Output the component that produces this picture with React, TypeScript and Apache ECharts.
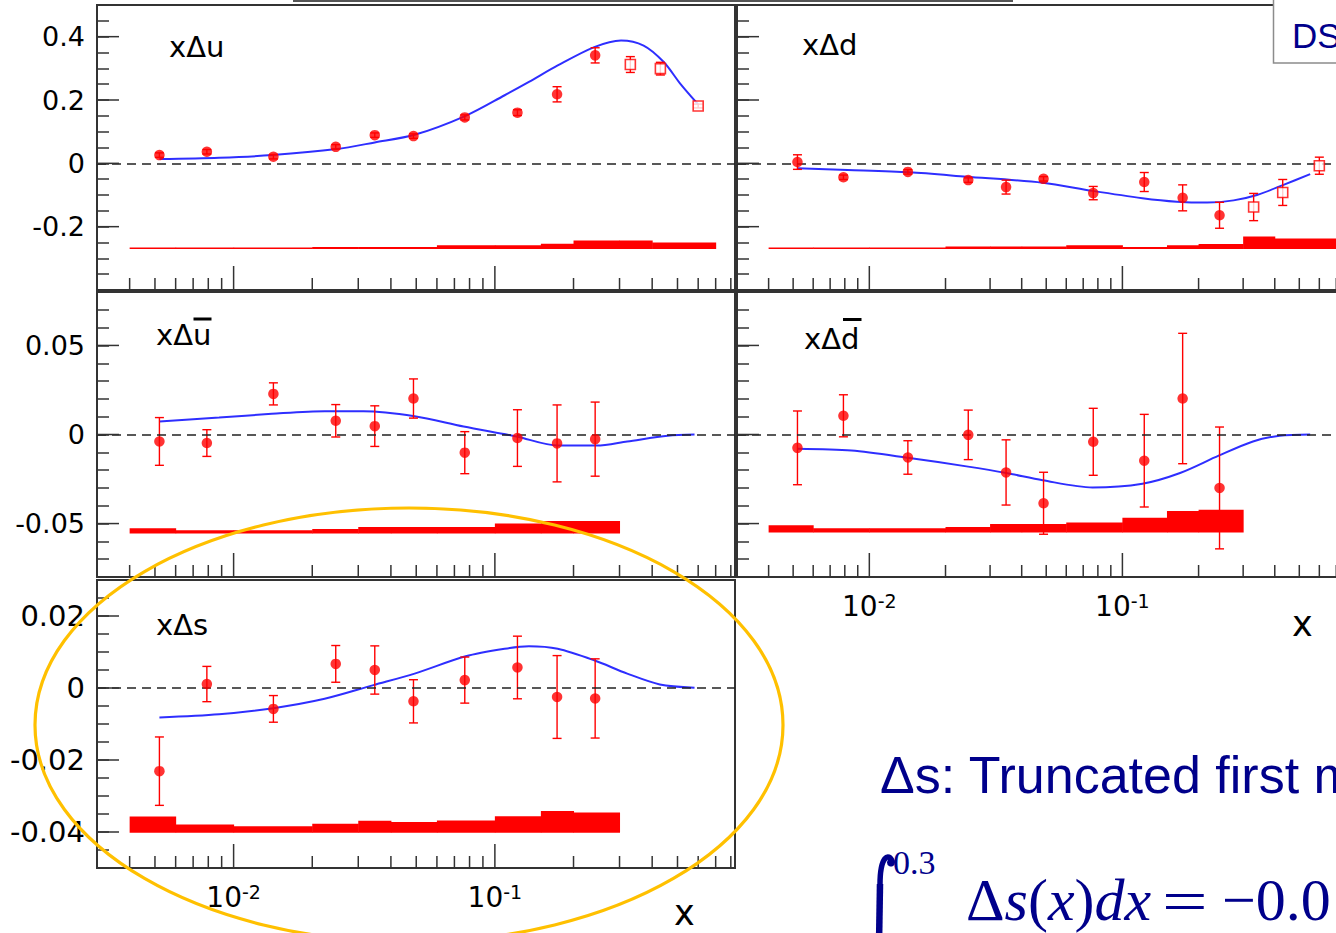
import { useEffect, useRef } from 'react';
import * as echarts from 'echarts';

// ---------- axis ranges & ticks ----------
const X_MIN = 0.003;
const X_MAX = 0.83;
const xMinorTicks = [0.004, 0.005, 0.006, 0.007, 0.008, 0.009, 0.02, 0.03, 0.04, 0.05, 0.06, 0.07, 0.08, 0.09, 0.2, 0.3, 0.4, 0.5, 0.6, 0.7, 0.8];
const xMajorTicks = [0.01, 0.1];
const xTickExp = ['-2', '-1'];

const topYLabels = [-0.2, 0, 0.2, 0.4];
const midYLabels = [-0.05, 0, 0.05];
const botYLabels = [-0.04, -0.02, 0, 0.02];

// ---------- data ----------
const xBins = [0.0052, 0.0079, 0.0142, 0.0246, 0.0347, 0.0488, 0.0767, 0.122, 0.173, 0.242];
const xHigh = [0.33, 0.43, 0.6];
const sysEdges = [0.004, 0.006, 0.01, 0.02, 0.03, 0.04, 0.06, 0.1, 0.15, 0.2, 0.3, 0.4, 0.7];

// x Delta u
const uVal = [0.026, 0.0365, 0.021, 0.052, 0.089, 0.086, 0.145, 0.16, 0.218, 0.341];
const uErr = [0.007, 0.007, 0.007, 0.007, 0.007, 0.007, 0.008, 0.009, 0.024, 0.024];
const uHighVal = [0.312, 0.299, 0.181];
const uHighErr = [0.025, 0.02, 0.006];
const uSys = [-0.2675, -0.2675, -0.2675, -0.264, -0.264, -0.264, -0.259, -0.259, -0.254, -0.244, -0.244, -0.25];
const uSysBase = -0.2705;
const uCurveX = [0.0052, 0.0088, 0.0141, 0.0248, 0.0347, 0.0493, 0.0773, 0.109, 0.135, 0.174, 0.24, 0.304, 0.371, 0.443, 0.512, 0.6];
const uCurveY = [0.0135, 0.0177, 0.026, 0.045, 0.066, 0.09, 0.15, 0.215, 0.257, 0.309, 0.367, 0.388, 0.372, 0.32, 0.252, 0.186];

// x Delta d
const dVal = [0.004, -0.044, -0.027, -0.053, -0.075, -0.049, -0.094, -0.059, -0.109, -0.164];
const dErr = [0.023, 0.007, 0.007, 0.007, 0.022, 0.007, 0.021, 0.03, 0.041, 0.041];
const dHighVal = [-0.138, -0.092, -0.0075];
const dHighErr = [0.043, 0.041, 0.027];
const dSys = [-0.268, -0.268, -0.268, -0.263, -0.263, -0.263, -0.259, -0.264, -0.259, -0.255, -0.231, -0.237];
const dSysBase = -0.2705;
const dCurveX = [0.0052, 0.0082, 0.0144, 0.0242, 0.0484, 0.0762, 0.12, 0.164, 0.216, 0.275, 0.34, 0.433, 0.552];
const dCurveY = [-0.0158, -0.021, -0.0284, -0.042, -0.061, -0.087, -0.11, -0.121, -0.124, -0.117, -0.1, -0.068, -0.034];

// x Delta u-bar
const ubVal = [-0.0039, -0.0048, 0.0228, 0.0077, 0.0047, 0.0202, -0.0102, -0.002, -0.005, -0.0026];
const ubErr = [0.0134, 0.0075, 0.0062, 0.0091, 0.0114, 0.011, 0.0118, 0.0159, 0.0216, 0.0208];
const ubSys = [-0.0526, -0.0537, -0.0537, -0.053, -0.0519, -0.0519, -0.0519, -0.05, -0.0485, -0.0485];
const ubSysBase = -0.0556;
const ubCurveX = [0.0052, 0.0088, 0.014, 0.0223, 0.0314, 0.0493, 0.0759, 0.121, 0.174, 0.245, 0.321, 0.459, 0.581];
const ubCurveY = [0.0073, 0.0095, 0.0116, 0.0131, 0.0131, 0.0103, 0.0045, -0.0011, -0.0062, -0.0062, -0.0039, -0.0007, 0];

// x Delta d-bar
const dbVal = [-0.0075, 0.0105, -0.0129, -0.0002, -0.0213, -0.0386, -0.0041, -0.0147, 0.0202, -0.03];
const dbErr = [0.0207, 0.0118, 0.0094, 0.0139, 0.0183, 0.0174, 0.0188, 0.026, 0.0366, 0.0342];
const dbSys = [-0.051, -0.0526, -0.0526, -0.0519, -0.0502, -0.0502, -0.0494, -0.0468, -0.0429, -0.0422];
const dbSysBase = -0.055;
const dbCurveX = [0.0052, 0.0085, 0.0144, 0.0242, 0.0348, 0.0484, 0.0762, 0.12, 0.169, 0.24, 0.328, 0.418, 0.552];
const dbCurveY = [-0.008, -0.009, -0.0132, -0.0179, -0.0216, -0.0257, -0.0297, -0.0276, -0.0216, -0.0119, -0.0039, -0.0007, 0];

// x Delta s
const sVal = [-0.0231, 0.0011, -0.0058, 0.0067, 0.005, -0.0037, 0.0022, 0.0057, -0.0025, -0.0029];
const sErr = [0.0095, 0.0049, 0.0037, 0.0051, 0.0067, 0.006, 0.0064, 0.0087, 0.0115, 0.011];
const sSys = [-0.0357, -0.0379, -0.0384, -0.0377, -0.0369, -0.0372, -0.0368, -0.0356, -0.0342, -0.0346];
const sSysBase = -0.0402;
const sCurveX = [0.0052, 0.0088, 0.0142, 0.0223, 0.0343, 0.0493, 0.0773, 0.109, 0.135, 0.174, 0.24, 0.321, 0.428, 0.581];
const sCurveY = [-0.0082, -0.0073, -0.0056, -0.003, 0.0008, 0.004, 0.0088, 0.0109, 0.0116, 0.0109, 0.0077, 0.004, 0.001, 0.0001];

// ---------- styling ----------
const FONT = 'DejaVu Sans';
const RED = '#ff0000';
const BLUE = '#2e2eff';
const FRAME = '#333333';
const NAVY = '#00008b';

type Panel = {
  left: number; top: number; width: number; height: number;
  yMin: number; yMax: number; yStep: number; yMajor: number[];
  showY: boolean; showX: boolean; yFont: number;
  val: number[]; err: number[]; hiVal?: number[]; hiErr?: number[];
  sys: number[]; sysBase: number; cx: number[]; cy: number[];
};

const panels: Panel[] = [
  { left: 97, top: 5, width: 638, height: 285, yMin: -0.4, yMax: 0.5, yStep: 0.05, yMajor: topYLabels, showY: true, showX: false, yFont: 27,
    val: uVal, err: uErr, hiVal: uHighVal, hiErr: uHighErr, sys: uSys, sysBase: uSysBase, cx: uCurveX, cy: uCurveY },
  { left: 737, top: 5, width: 618, height: 285, yMin: -0.4, yMax: 0.5, yStep: 0.05, yMajor: topYLabels, showY: false, showX: false, yFont: 27,
    val: dVal, err: dErr, hiVal: dHighVal, hiErr: dHighErr, sys: dSys, sysBase: dSysBase, cx: dCurveX, cy: dCurveY },
  { left: 97, top: 292, width: 638, height: 285, yMin: -0.08, yMax: 0.08, yStep: 0.01, yMajor: midYLabels, showY: true, showX: false, yFont: 27,
    val: ubVal, err: ubErr, sys: ubSys, sysBase: ubSysBase, cx: ubCurveX, cy: ubCurveY },
  { left: 737, top: 292, width: 618, height: 285, yMin: -0.08, yMax: 0.08, yStep: 0.01, yMajor: midYLabels, showY: false, showX: true, yFont: 27,
    val: dbVal, err: dbErr, sys: dbSys, sysBase: dbSysBase, cx: dbCurveX, cy: dbCurveY },
  { left: 97, top: 580, width: 638, height: 288, yMin: -0.05, yMax: 0.03, yStep: 0.005, yMajor: botYLabels, showY: true, showX: true, yFont: 29,
    val: sVal, err: sErr, sys: sSys, sysBase: sSysBase, cx: sCurveX, cy: sCurveY },
];

const yFmt = (labels: number[]) => (v: number) => {
  const l = labels.find((t) => Math.abs(t - v) < 1e-7);
  return l === undefined ? '' : String(l);
};
const xFmt = (v: number) => {
  const i = xMajorTicks.findIndex((t) => Math.abs(Math.log10(t) - Math.log10(v)) < 1e-6);
  return i < 0 ? '' : `{b|10}{s|${xTickExp[i]}}`;
};

function buildOption() {
  const grid: any[] = [];
  const xAxis: any[] = [];
  const yAxis: any[] = [];
  const series: any[] = [];

  panels.forEach((p, i) => {
    grid.push({
      left: p.left, top: p.top, width: p.width, height: p.height,
      show: true, borderColor: FRAME, borderWidth: 2, backgroundColor: 'transparent',
      containLabel: false, outerBoundsMode: 'none',
    });
    xAxis.push({
      type: 'log', logBase: 10, gridIndex: i, min: X_MIN, max: X_MAX,
      axisLine: { show: false }, axisTick: { show: false }, splitLine: { show: false },
      axisLabel: {
        show: p.showX, formatter: xFmt, color: '#000', margin: 14,
        rich: {
          b: { fontFamily: FONT, fontSize: 28, color: '#000', lineHeight: 30 },
          s: { fontFamily: FONT, fontSize: 19, color: '#000', verticalAlign: 'top', lineHeight: 20 },
        },
      },
    });
    yAxis.push({
      type: 'value', gridIndex: i, min: p.yMin, max: p.yMax, interval: p.yStep,
      axisLine: { show: false }, splitLine: { show: false },
      axisTick: { show: true, inside: true, length: 12, lineStyle: { color: FRAME, width: 1.5 } },
      axisLabel: { show: p.showY, formatter: yFmt(p.yMajor), fontFamily: FONT, fontSize: p.yFont, color: '#000', margin: 12 },
    });

    // systematic band
    series.push({
      type: 'custom', xAxisIndex: i, yAxisIndex: i, z: 2,
      encode: { x: [0, 1], y: [2, 3] },
      data: p.sys.map((top, k) => [sysEdges[k], sysEdges[k + 1], top, p.sysBase]),
      renderItem: (_params: any, api: any) => {
        const a = api.coord([api.value(0), api.value(2)]);
        const b = api.coord([api.value(1), api.value(3)]);
        const h = Math.max(1.6, b[1] - a[1]);
        return { type: 'rect', shape: { x: a[0], y: b[1] - h, width: b[0] - a[0] + 0.5, height: h }, style: { fill: RED } };
      },
      silent: true,
    });

    // fit curve + zero line
    series.push({
      type: 'line', xAxisIndex: i, yAxisIndex: i, z: 3,
      data: p.cx.map((x, k) => [x, p.cy[k]]),
      showSymbol: false, smooth: 0.3,
      lineStyle: { color: BLUE, width: 2 },
      silent: true,
      markLine: {
        silent: true, symbol: ['none', 'none'], label: { show: false },
        lineStyle: { type: [9, 6], color: '#222', width: 1.5 },
        data: [{ yAxis: 0 }],
      },
    });

    // error bars
    const errData: number[][] = p.val.map((v, k) => [xBins[k], v - p.err[k], v + p.err[k]]);
    if (p.hiVal && p.hiErr) p.hiVal.forEach((v, k) => errData.push([xHigh[k], v - p.hiErr![k], v + p.hiErr![k]]));
    series.push({
      type: 'custom', xAxisIndex: i, yAxisIndex: i, z: 4,
      encode: { x: 0, y: [1, 2] },
      data: errData,
      renderItem: (_params: any, api: any) => {
        const lo = api.coord([api.value(0), api.value(1)]);
        const hi = api.coord([api.value(0), api.value(2)]);
        const w = 4.5;
        const st = { stroke: RED, lineWidth: 1.4 };
        return {
          type: 'group',
          children: [
            { type: 'line', shape: { x1: hi[0], y1: hi[1], x2: lo[0], y2: lo[1] }, style: st },
            { type: 'line', shape: { x1: hi[0] - w, y1: hi[1], x2: hi[0] + w, y2: hi[1] }, style: st },
            { type: 'line', shape: { x1: lo[0] - w, y1: lo[1], x2: lo[0] + w, y2: lo[1] }, style: st },
          ],
        };
      },
      silent: true,
    });

    // points
    series.push({
      type: 'scatter', xAxisIndex: i, yAxisIndex: i, z: 5,
      data: p.val.map((v, k) => [xBins[k], v]),
      symbol: 'circle', symbolSize: 10.5,
      itemStyle: { color: RED },
      silent: true,
    });
    if (p.hiVal) {
      series.push({
        type: 'scatter', xAxisIndex: i, yAxisIndex: i, z: 5,
        data: p.hiVal.map((v, k) => [xHigh[k], v]),
        symbol: 'rect', symbolSize: 10,
        itemStyle: { color: '#ffffff', borderColor: RED, borderWidth: 1.6 },
        silent: true,
      });
    }

    // x ticks (log minor + major)
    series.push({
      type: 'custom', xAxisIndex: i, yAxisIndex: i, z: 6,
      encode: { x: 0, y: 1 },
      data: [...xMinorTicks, ...xMajorTicks].map((v) => [v, p.yMin]),
      renderItem: (_params: any, api: any) => {
        const v = api.value(0);
        const pt = api.coord([v, api.value(1)]);
        const major = xMajorTicks.some((t) => Math.abs(t - v) < 1e-9);
        const len = major ? 24 : 12;
        return { type: 'line', shape: { x1: pt[0], y1: pt[1], x2: pt[0], y2: pt[1] - len }, style: { stroke: FRAME, lineWidth: 1.5 } };
      },
      silent: true,
    });
    // y major ticks
    series.push({
      type: 'custom', xAxisIndex: i, yAxisIndex: i, z: 6,
      encode: { x: 0, y: 1 },
      data: p.yMajor.map((v) => [X_MIN, v]),
      renderItem: (_params: any, api: any) => {
        const pt = api.coord([api.value(0), api.value(1)]);
        return { type: 'line', shape: { x1: pt[0], y1: pt[1], x2: pt[0] + 22, y2: pt[1] }, style: { stroke: FRAME, lineWidth: 1.5 } };
      },
      silent: true,
    });
  });

  const txt = (text: string, x: number, y: number, font: string, fill = '#000', z = 50, extraStyle: any = {}, extra: any = {}) => ({
    type: 'text', silent: true, z,
    style: { text, x, y, font, fill, align: 'left', verticalAlign: 'middle', ...extraStyle },
    ...extra,
  });

  const graphic: any[] = [
    // top strip line (box above, cut off)
    { type: 'rect', silent: true, z: 50, shape: { x: 293, y: 0, width: 720, height: 2 }, style: { fill: '#555' } },
    // DS box
    { type: 'rect', silent: true, z: 60, shape: { x: 1273.5, y: -3, width: 100, height: 66 }, style: { fill: '#fff', stroke: '#8c8c8c', lineWidth: 1.5 } },
    txt('DS', 1292, 35, `35px "Liberation Sans"`, NAVY, 61),
    // panel labels
    txt('xΔu', 169, 47, `29px "${FONT}"`),
    txt('xΔd', 802, 45, `29px "${FONT}"`),
    txt('xΔu', 156, 335, `29px "${FONT}"`),
    txt('xΔd', 804, 339, `29px "${FONT}"`),
    txt('xΔs', 156, 625, `29px "${FONT}"`),
    { type: 'rect', silent: true, z: 50, shape: { x: 193.5, y: 317.5, width: 18, height: 3 }, style: { fill: '#000' } },
    { type: 'rect', silent: true, z: 50, shape: { x: 843, y: 318, width: 18.5, height: 3 }, style: { fill: '#000' } },
    // axis titles
    txt('x', 674, 913, `35px "${FONT}"`, '#000', 50, { lineHeight: 26 }),
    txt('x', 1292, 624, `35px "${FONT}"`, '#000', 50, { lineHeight: 26 }),
    // annotation
    txt('Δs: Truncated first moment', 880, 775, `52px "Liberation Sans"`, NAVY),
    {
      type: 'bezierCurve', silent: true, z: 50,
      shape: { x1: 892, y1: 861, cpx1: 889, cpy1: 853, cpx2: 880, cpy2: 855, x2: 880, y2: 885 },
      style: { stroke: NAVY, lineWidth: 5.5, fill: 'none', lineCap: 'round' },
    },
    { type: 'line', silent: true, z: 50, shape: { x1: 880, y1: 884, x2: 879, y2: 945 }, style: { stroke: NAVY, lineWidth: 6.5 } },
    { type: 'circle', silent: true, z: 50, shape: { cx: 891, cy: 862.5, r: 4 }, style: { fill: NAVY } },
    txt('0.3', 893, 862, `34px "Liberation Serif"`, NAVY),
    txt('0.004', 888, 946, `32px "Liberation Serif"`, NAVY),
    {
      type: 'text', silent: true, z: 50,
      style: {
        text: '{u|Δ}{i|s}{u|(}{i|x}{u|)}{i|dx}',
        x: 966, y: 900, verticalAlign: 'middle', align: 'left',
        rich: {
          u: { font: `60px "Liberation Serif"`, fill: NAVY },
          i: { font: `italic 60px "Liberation Serif"`, fill: NAVY },
        },
      },
    },
    txt('=', 0, 0, `60px "Liberation Serif"`, NAVY, 50, {}, { x: 1162, y: 900, scaleX: 1.35 }),
    txt('−0.0', 1222, 900, `60px "Liberation Serif"`, NAVY),
    // highlight ellipse
    { type: 'ellipse', silent: true, z: 100, shape: { cx: 409, cy: 725, rx: 374, ry: 217 }, style: { fill: 'none', stroke: '#FFC000', lineWidth: 3.2 } },
  ];

  return { animation: false, backgroundColor: '#ffffff', grid, xAxis, yAxis, series, graphic };
}

export default function App() {
  const ref = useRef<HTMLDivElement>(null);
  useEffect(() => {
    document.body.style.margin = '0';
    document.body.style.overflow = 'hidden';
    if (!ref.current) return;
    const chart = echarts.init(ref.current, undefined, { renderer: 'svg' });
    chart.setOption(buildOption() as any);
    return () => chart.dispose();
  }, []);
  return <div ref={ref} style={{ width: 1336, height: 933, overflow: 'hidden' }} />;
}
